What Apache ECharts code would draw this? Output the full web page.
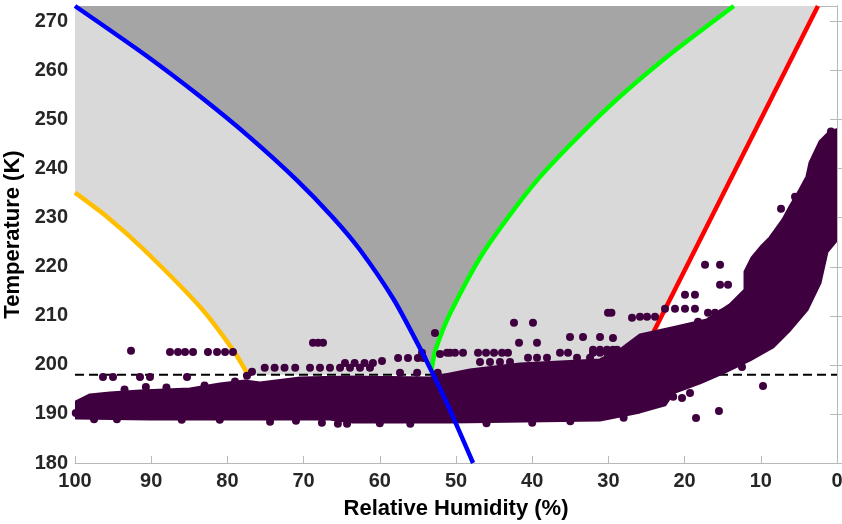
<!DOCTYPE html>
<html>
<head>
<meta charset="utf-8">
<script src="https://cdn.jsdelivr.net/npm/echarts@6.0.0/dist/echarts.min.js"></script>
<style>
html,body{margin:0;padding:0;background:#fff;}
#chart{width:842px;height:524px;}
</style>
</head>
<body>
<div id="chart"></div>
<script>
// ---- data ----
var xTicks = [0, 10, 20, 30, 40, 50, 60, 70, 80, 90, 100];
var yTicks = [180, 190, 200, 210, 220, 230, 240, 250, 260, 270];
var yMax = 273.15;
var thresholdT = 198;

// blue curve
var blueCurve = [[100,273.15],[90.5,262.86],[83.57,254.69],[77.17,246.53],[70.96,237.76],[66.25,230.2],[62.61,223.47],[58.15,213.27],[54.61,203.06],[53.23,198.8],[50.98,191.43],[47.76,180]];
// green curve (from the intersection with blue upwards)
var greenCurve = [[53.23,198.8],[52.68,203.06],[50.73,210.61],[46.18,223.47],[39.29,237.76],[30.76,251.43],[22.76,262.24],[13.54,273.15]];
// red line
var redLine = [[26.9,198],[2.5,273.15]];
// yellow curve
var yellowCurve = [[100,235.1],[95.73,230.1],[91.08,223.67],[83.6,211.84],[79.27,203.06],[77.3,198]];
// dashed threshold
var dashedLine = [[100,thresholdT],[0,thresholdT]];

// light grey region (between yellow and red, above the threshold)
var lightRegion = [[100,273.15],[2.5,273.15],[26.9,198],[77.3,198],[79.27,203.06],[83.6,211.84],[91.08,223.67],[95.73,230.1],[100,235.1]];
// dark grey region (between blue and green)
var darkRegion = [[100,273.15],[90.5,262.86],[83.57,254.69],[77.17,246.53],[70.96,237.76],[66.25,230.2],[62.61,223.47],[58.15,213.27],[54.61,203.06],[53.23,198.8],[52.68,203.06],[50.73,210.61],[46.18,223.47],[39.29,237.76],[30.76,251.43],[22.76,262.24],[13.54,273.15]];

// outline of the dense observation cloud
var cloudCore = [[99.87,192.45],[98.03,193.88],[95.41,194.29],[91.47,194.69],[84.91,195.10],[80.97,196.12],[77.69,196.73],[75.72,196.33],[70.47,197.35],[63.91,197.55],[53.41,197.35],[48.16,198.98],[41.60,200.20],[31.10,201.02],[28.48,203.06],[25.85,206.12],[21.52,207.55],[17.06,209.18],[14.04,212.24],[12.07,215.31],[12.07,218.98],[11.15,221.84],[9.84,224.29],[8.79,225.92],[7.09,229.59],[6.17,232.24],[4.86,235.71],[3.94,238.37],[3.54,241.22],[2.23,245.51],[0.92,247.55],[0,247.96],[0,225.51],[1.31,223.06],[2.23,216.73],[3.94,211.22],[6.17,207.14],[8.40,203.67],[11.42,201.02],[14.96,198.37],[17.98,196.33],[21.52,194.29],[22.57,191.84],[25.85,190.41],[31.10,188.78],[50.79,188.37],[63.52,188.37],[66.54,188.98],[77.03,188.98],[90.16,188.98],[99.87,189.18]];

// individual observations around the cloud
var obsPoints = [
[99.9,190.2],[92.65,202.86],
[87.53,202.65],[86.48,202.65],[85.56,202.65],[84.51,202.65],
[82.55,202.65],[81.36,202.65],[80.31,202.65],[79.27,202.65],
[96.33,197.55],[95.01,197.55],[91.47,197.55],[90.16,197.55],[85.3,197.55],[77.43,197.8],
[90.7,195.5],[93.5,195.0],[88.0,195.4],[83.0,195.8],[79.0,196.6],
[74.4,188.4],[67.6,188.2],[65.5,188.0],[64.3,188.0],
[97.5,188.9],[94.5,188.9],[86.0,188.8],[81.0,188.8],[71.0,188.6],[60.0,188.1],[56.0,188.0],[46.0,188.1],[40.0,188.2],[35.0,188.5],[28.0,189.2],
[76.77,198.6],[75.1,199.4],[73.8,199.4],[72.5,199.4],[71.1,199.4],
[68.77,204.49],[68.11,204.49],[67.45,204.49],
[69.16,199.4],[67.85,199.4],[66.54,199.4],[65.22,199.4],[63.91,199.4],[62.6,199.4],[61.29,199.4],
[64.57,200.4],[63.3,200.4],[62.0,200.4],[60.9,200.4],[59.71,200.8],
[57.6,201.4],[56.3,201.4],[55.0,201.4],[54.3,201.4],
[54.46,202.45],[52.1,202.2],[50.79,202.45],[52.76,206.5],
[57.35,198.4],[55.1,198.4],[52.4,198.4],
[42.39,208.57],[39.9,208.57],[30.05,210.6],[29.6,210.6],[26.9,209.6],[25.85,209.8],
[41.73,204.49],[39.37,204.49],[35.04,205.7],[33.33,205.7],[31.1,205.7],[29.4,205.5],
[51.18,202.45],[50.13,202.45],[49.08,202.45],
[47.11,202.45],[46.06,202.45],[45.01,202.45],[43.96,202.45],[43.18,202.45],
[36.35,202.45],[35.3,202.45],[32.02,202.45],[31.1,202.45],[30.18,202.45],[29.79,202.45],[28.48,202.45],
[40.55,201.43],[39.37,201.43],[38.06,201.43],[34.12,201.43],[32.41,201.43],
[32.02,203.06],[31.1,203.06],[30.18,203.06],[29.4,203.06],[28.87,203.06],[27.56,203.06],[26.25,203.06],
[46.85,200.6],[45.54,200.6],[44.23,200.6],[42.91,200.6],
[17.32,220.41],[15.35,220.41],[15.35,216.33],[14.3,216.33],
[19.95,214.29],[18.64,214.29],
[22.57,211.43],[21.26,211.43],[19.95,211.43],[18.64,211.43],
[16.93,210.61],[16.01,210.61],[15.09,210.61],[14.3,210.61],
[18.24,208.78],[24.93,209.8],[23.88,209.8],
[9.71,195.71],[15.49,190.61],[18.5,189.18],
[19.29,194.29],[20.34,193.27],[21.5,193.5],
[12.47,199.59],[7.09,206.73],
[7.35,231.84],[0.79,247.55],[5.51,234.29]
];

// ---- chart ----
var DOT = '#3f003f';
var FONT = 'Liberation Sans, Arial, Helvetica, sans-serif';

function polygonSeries(points, color, z, stroke) {
  return {
    type: 'custom',
    coordinateSystem: 'cartesian2d',
    z: z,
    silent: true,
    clip: true,
    data: [points[0]],
    renderItem: function (params, api) {
      var pts = points.map(function (p) { return api.coord(p); });
      return {
        type: 'polygon',
        shape: { points: pts },
        style: stroke ? { fill: color, stroke: color, lineWidth: 3, lineJoin: 'round' } : { fill: color }
      };
    }
  };
}

function lineSeries(points, color, z, width, dash, smooth) {
  return {
    type: 'line',
    z: z,
    data: points,
    showSymbol: false,
    symbol: 'none',
    smooth: smooth || false,
    clip: true,
    silent: true,
    lineStyle: { color: color, width: width, type: dash || 'solid' }
  };
}

var axisLineStyle = { lineStyle: { color: '#b8b8b8', width: 1 } };
var tickStyle = { inside: true, length: 7, lineStyle: { color: '#b8b8b8', width: 1 } };

var chart = echarts.init(document.getElementById('chart'), null, { renderer: 'canvas' });
chart.setOption({
  animation: false,
  backgroundColor: '#ffffff',
  grid: { left: 75, right: 5, top: 6, bottom: 61, containLabel: false, outerBoundsMode: 'none' },
  xAxis: [{
    type: 'value', min: xTicks[0], max: xTicks[xTicks.length - 1], interval: 10, inverse: true,
    position: 'bottom',
    axisLine: axisLineStyle, axisTick: tickStyle, splitLine: { show: false },
    axisLabel: { color: '#262626', fontSize: 20, fontWeight: 'bold', fontFamily: FONT, margin: 8 },
    name: 'Relative Humidity (%)', nameLocation: 'middle', nameGap: 35,
    nameTextStyle: { color: '#000', fontSize: 22, fontWeight: 'bold', fontFamily: FONT }
  }, {
    type: 'value', min: xTicks[0], max: xTicks[xTicks.length - 1], interval: 10, inverse: true,
    position: 'top',
    axisLine: axisLineStyle, axisTick: tickStyle, splitLine: { show: false },
    axisLabel: { show: false }
  }],
  yAxis: [{
    type: 'value', min: yTicks[0], max: yMax, interval: 10,
    position: 'left',
    axisLine: { show: true, lineStyle: { color: '#b8b8b8', width: 1 } }, axisTick: tickStyle, splitLine: { show: false },
    axisLabel: {
      color: '#262626', fontSize: 20, fontWeight: 'bold', fontFamily: FONT, margin: 7,
      showMaxLabel: false,
      formatter: function (v) { return yTicks.indexOf(Math.round(v * 100) / 100) >= 0 ? String(v) : ''; }
    },
    name: 'Temperature (K)', nameLocation: 'middle', nameGap: 42,
    nameTextStyle: { color: '#000', fontSize: 22, fontWeight: 'bold', fontFamily: FONT }
  }, {
    type: 'value', min: yTicks[0], max: yMax, interval: 10,
    position: 'right',
    axisLine: { show: true, lineStyle: { color: '#b8b8b8', width: 1 } }, axisTick: tickStyle, splitLine: { show: false },
    axisLabel: { show: false }
  }],
  series: [
    polygonSeries(lightRegion, '#d9d9d9', 1, false),
    polygonSeries(darkRegion, '#a5a5a5', 1.5, false),
    lineSeries(dashedLine, '#000000', 2, 2, [9, 5]),
    lineSeries(redLine, '#ff0000', 2.2, 4.5),
    lineSeries(greenCurve, '#00ff00', 2.2, 4.5, null, 0.25),
    lineSeries(yellowCurve, '#ffbf00', 2.2, 4.5, null, 0.25),
    polygonSeries(cloudCore, DOT, 3, true),
    {
      type: 'scatter', z: 3.5, data: obsPoints, symbol: 'circle', symbolSize: 8,
      itemStyle: { color: DOT, opacity: 1 }, silent: true
    },
    lineSeries(blueCurve, '#0000ff', 4, 4.5, null, 0.25)
  ]
});
</script>
</body>
</html>
